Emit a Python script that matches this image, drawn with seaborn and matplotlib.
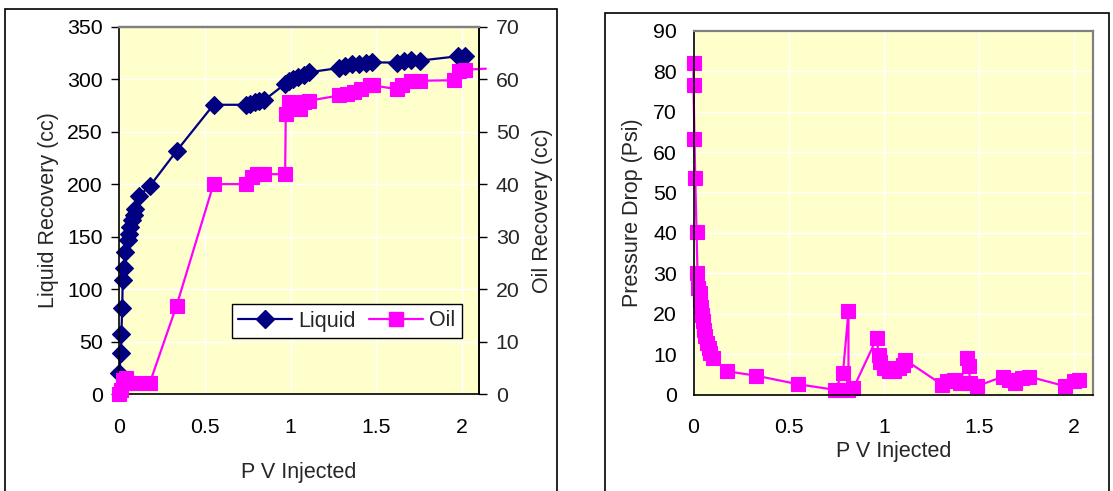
import matplotlib
matplotlib.use("Agg")
import matplotlib.pyplot as plt
import seaborn as sns
import numpy as np
import pandas as pd
from matplotlib.patches import Rectangle
from matplotlib.lines import Line2D

# ---------------- data ----------------
liq_pv = [0.0, 0.01, 0.012, 0.017, 0.02, 0.03, 0.035, 0.05, 0.057, 0.063, 0.073, 0.084, 0.094,
          0.115, 0.178, 0.334, 0.55, 0.742, 0.763, 0.794, 0.815, 0.846,
          0.968, 0.989, 1.014, 1.045, 1.076, 1.108,
          1.285, 1.317, 1.358, 1.40, 1.442, 1.473,
          1.624, 1.661, 1.703, 1.755, 1.975, 2.017]
liq_cc = [20, 39, 57, 82, 109, 120, 135, 147, 152, 159, 166, 171, 176,
          189, 198, 231.5, 275.6, 275.6, 276, 278, 279, 280,
          295.5, 298.7, 300, 302, 304, 306.6,
          310.7, 313, 314, 314.5, 315, 316,
          315.8, 317.7, 318.3, 317.7, 321.8, 322.5]

oil_pv = [0.0, 0.01, 0.02, 0.04, 0.063, 0.10, 0.178, 0.334, 0.55, 0.742, 0.773, 0.805, 0.846,
          0.968, 0.972, 0.989, 1.024, 1.055, 1.076, 1.108,
          1.285, 1.327, 1.369, 1.41, 1.463, 1.484,
          1.62, 1.65, 1.703, 1.755, 1.954, 1.985, 2.017, 2.14]
oil_cc = [0.0, 0.8, 2.7, 3.0, 2.1, 2.1, 2.1, 16.8, 40.0, 40.0, 41.4, 41.9, 41.9,
          41.9, 53.4, 55.6, 54.7, 54.3, 55.6, 55.9,
          56.9, 57.2, 57.5, 58.1, 58.8, 58.8,
          58.1, 58.8, 59.7, 59.7, 59.8, 61.6, 61.8, 62.0]

dp_pv = [0.0, 0.0, 0.005, 0.009, 0.016, 0.021, 0.026, 0.032, 0.035, 0.040, 0.044, 0.049, 0.056,
         0.061, 0.070, 0.079, 0.088, 0.105, 0.175, 0.329, 0.548, 0.744, 0.785, 0.814, 0.814,
         0.840, 0.963, 0.972, 0.980, 0.998, 1.025, 1.051, 1.077, 1.103, 1.112,
         1.305, 1.331, 1.366, 1.401, 1.436, 1.445, 1.454, 1.489,
         1.627, 1.655, 1.690, 1.725, 1.760, 1.953, 1.996, 2.023]
dp_psi = [82.1, 76.6, 63.2, 53.7, 40.2, 30.1, 26.4, 25.1, 23.5, 21.8, 19.8, 18.1, 16.1,
          14.4, 12.8, 11.5, 10.3, 9.1, 5.8, 4.7, 2.6, 1.2, 5.4, 20.6, 1.1,
          1.6, 14.0, 9.9, 8.2, 6.6, 5.8, 5.8, 6.6, 7.4, 8.6,
          2.5, 3.3, 3.7, 2.9, 9.1, 7.0, 2.9, 2.1,
          4.5, 3.7, 2.9, 4.1, 4.5, 2.1, 3.3, 3.7]

x_ticks = [0, 0.5, 1, 1.5, 2]
liq_ticks = list(range(0, 351, 50))
oil_ticks = list(range(0, 71, 10))
dp_ticks = list(range(0, 91, 10))

# ---------------- style ----------------
sns.set_style("white")
plt.rcParams['font.family'] = ['Liberation Sans', 'DejaVu Sans']
plt.rcParams['font.size'] = 15

NAVY = '#000080'
MAG = '#FF00FF'
BG = '#FFFFCC'
GRAY = '#808080'
DMS = 9.0    # diamond marker size
SMS = 10.5   # square marker size
TFS = 15.3   # tick font size
LFS = 15.5   # label font size

W, H = 1113, 491
fig = plt.figure(figsize=(W / 100, H / 100), dpi=100)

def fx(px):
    return px / W

def fy(py):
    return 1 - py / H

ax1 = fig.add_axes([fx(119.3), fy(394.0), fx(479.0) - fx(119.3), fy(26.7) - fy(394.0)])
ax3 = fig.add_axes([fx(693.5), fy(394.7), fx(1093.3) - fx(693.5), fy(30.7) - fy(394.7)])

def style_axes(ax, right_black=False):
    ax.set_facecolor(BG)
    ax.grid(True, color='white', lw=1.0)
    ax.set_axisbelow(True)
    for s in ['left', 'bottom']:
        ax.spines[s].set_color('black')
        ax.spines[s].set_linewidth(1.2)
    ax.spines['top'].set_color(GRAY)
    ax.spines['top'].set_linewidth(1.6)
    ax.spines['right'].set_color('black' if right_black else GRAY)
    ax.spines['right'].set_linewidth(1.2 if right_black else 1.6)
    ax.tick_params(axis='both', direction='out', length=6, width=1, color='black',
                   labelsize=TFS, labelcolor='black')
    ax.tick_params(axis='x', pad=11)
    ax.tick_params(axis='y', pad=6)

# ---------------- left panel ----------------
style_axes(ax1, right_black=True)
df_liq = pd.DataFrame({'pv': liq_pv, 'cc': liq_cc})
sns.lineplot(data=df_liq, x='pv', y='cc', ax=ax1, estimator=None, sort=False,
             color=NAVY, lw=1.6, marker='D', markersize=DMS, markeredgecolor=NAVY,
             markeredgewidth=0.8, legend=False, clip_on=False)
ax1.set_xlim(0, 2.1)
ax1.set_ylim(0, 350)
ax1.set_xticks(x_ticks)
ax1.set_xticklabels(['0', '0.5', '1', '1.5', '2'])
ax1.set_yticks(liq_ticks)
ax1.set_xlabel('P V Injected', fontsize=LFS, labelpad=18)
ax1.set_ylabel('Liquid Recovery (cc)', fontsize=LFS, labelpad=6)

ax2 = ax1.twinx()
ax2.patch.set_visible(False)
ax2.grid(False)
ax2.spines['right'].set_color('black')
ax2.spines['right'].set_linewidth(1.2)
ax2.spines['top'].set_color(GRAY)
ax2.spines['top'].set_linewidth(1.6)
ax2.spines['left'].set_visible(False)
ax2.spines['bottom'].set_visible(False)
df_oil = pd.DataFrame({'pv': oil_pv, 'cc': oil_cc})
sns.lineplot(data=df_oil, x='pv', y='cc', ax=ax2, estimator=None, sort=False,
             color=MAG, lw=1.6, marker='s', markersize=SMS, markeredgecolor=MAG,
             markeredgewidth=0.8, legend=False, markevery=list(range(len(oil_pv) - 1)),
             clip_on=False)
ax2.set_ylim(0, 70)
ax2.set_yticks(oil_ticks)
ax2.tick_params(axis='y', direction='out', length=6, width=1, color='black',
                labelsize=TFS, pad=6)
ax2.set_ylabel('Oil Recovery (cc)', fontsize=LFS, labelpad=9)
ax2.set_xlim(0, 2.1)

handles = [Line2D([], [], color=NAVY, lw=1.6, marker='D', markersize=DMS),
           Line2D([], [], color=MAG, lw=1.6, marker='s', markersize=SMS)]
leg = ax2.legend(handles, ['Liquid', 'Oil'], ncol=2, loc='center',
                 bbox_to_anchor=(fx(347), fy(321)), bbox_transform=fig.transFigure,
                 frameon=True, fancybox=False, framealpha=1, edgecolor='black',
                 fontsize=LFS, handlelength=2.5, handletextpad=0.3, columnspacing=0.6,
                 borderpad=0.28, borderaxespad=0)
leg.get_frame().set_linewidth(1.0)

# ---------------- right panel ----------------
style_axes(ax3)
df_dp = pd.DataFrame({'pv': dp_pv, 'psi': dp_psi})
sns.lineplot(data=df_dp, x='pv', y='psi', ax=ax3, estimator=None, sort=False,
             color=MAG, lw=1.6, marker='s', markersize=SMS, markeredgecolor=MAG,
             markeredgewidth=0.8, legend=False, clip_on=False)
ax3.set_xlim(0, 2.1)
ax3.set_ylim(0, 90)
ax3.set_xticks(x_ticks)
ax3.set_xticklabels(['0', '0.5', '1', '1.5', '2'])
ax3.set_yticks(dp_ticks)
ax3.set_xlabel('P V Injected', fontsize=LFS, labelpad=3)
ax3.set_ylabel('Pressure Drop (Psi)', fontsize=LFS, labelpad=7)

# ---------------- outer frames ----------------
fig.add_artist(Rectangle((fx(4.5), -0.02), fx(556.5) - fx(4.5), fy(8.5) + 0.02,
                         transform=fig.transFigure, fill=False, ec='black', lw=1.2))
fig.add_artist(Rectangle((fx(604.5), -0.02), fx(1109) - fx(604.5), fy(12.7) + 0.02,
                         transform=fig.transFigure, fill=False, ec='black', lw=1.2))

fig.savefig('out.png', dpi=100, facecolor='white')
